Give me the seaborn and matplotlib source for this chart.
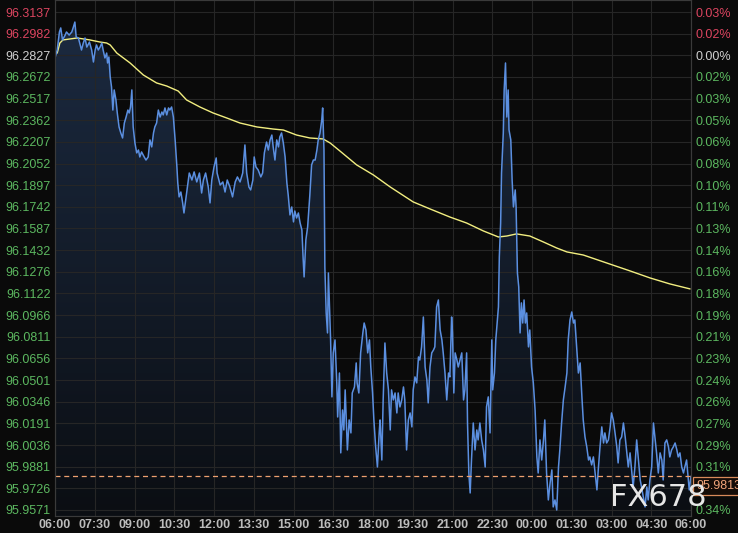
import numpy as np
import pandas as pd
import matplotlib
matplotlib.use("Agg")
import matplotlib.pyplot as plt
import seaborn as sns
from matplotlib.colors import LinearSegmentedColormap

# ---------------- data ----------------
T_MIN = [0,5,10,13,17,23,26,32,38,41,
 45,48,53,60,64,68,72,78,83,87,
 91,94,98,102,106,109,113,117,119,122,
 125,128,131,134,138,141,145,149,153,157,
 161,165,168,171,174,177,181,185,189,192,
 196,202,206,211,215,219,223,226,230,234,
 238,242,245,249,253,257,260,264,268,272,
 276,278,281,285,289,292,298,304,310,315,
 321,327,332,336,341,347,351,355,360,365,
 367,374,380,385,390,396,402,408,413,419,
 425,430,434,439,443,448,451,455,460,466,
 470,474,479,483,487,491,494,498,502,506,
 509,513,517,521,525,528,532,536,540,543,
 547,551,555,559,562,564,568,572,577,581,
 585,589,593,596,600,604,606,609,611,614,
 617,619,621,624,627,630,634,638,640,644,
 647,651,654,657,662,666,670,673,678,682,
 684,688,692,697,700,704,708,712,715,719,
 722,726,730,734,736,740,743,747,751,755,
 759,762,766,770,774,777,781,785,789,792,
 796,800,804,808,811,815,819,823,826,830,
 834,838,842,845,849,853,857,860,864,868,
 872,876,879,883,887,891,894,898,900,903,
 906,910,913,917,921,925,928,932,934,937,
 940,943,947,951,955,958,962,966,970,974,
 977,981,985,989,991,995,998,1004,1006,1009,
 1011,1015,1017,1020,1023,1026,1028,1032,1035,1038,
 1042,1044,1047,1050,1053,1056,1059,1062,1065,1068,
 1072,1075,1079,1083,1087,1091,1094,1098,1102,1106,
 1109,1113,1117,1121,1125,1128,1132,1136,1140,1143,
 1147,1151,1155,1159,1162,1166,1170,1174,1177,1181,
 1185,1189,1193,1196,1200,1204,1208,1211,1215,1219,
 1223,1227,1230,1234,1238,1242,1245,1249,1253,1257,
 1260,1264,1268,1272,1275,1279,1283,1287,1291,1294,
 1298,1302,1306,1309,1313,1317,1321,1325,1328,1332,
 1336,1340,1343,1347,1351,1355,1359,1362,1366,1370,
 1374,1377,1381,1385,1389,1392,1396,1400,1404,1408,
 1411,1415,1419,1423,1426,1430,1434,1436,1440]

PRICE = [96.2808,96.2865,96.2994,96.3023,96.2937,96.2972,96.2994,96.2972,96.2994,96.3023,
 96.3065,96.2958,96.2951,96.2865,96.2915,96.2951,96.2886,96.2922,96.2865,96.2779,
 96.2865,96.2901,96.2865,96.2886,96.2915,96.2865,96.2808,96.2843,96.2772,96.2815,
 96.2672,96.2600,96.2435,96.2579,96.2507,96.2414,96.2314,96.2271,96.2235,96.2342,
 96.2385,96.2435,96.2414,96.2457,96.2579,96.2314,96.2199,96.2128,96.2149,96.2099,
 96.2135,96.2099,96.2077,96.2099,96.2221,96.2171,96.2271,96.2314,96.2342,96.2435,
 96.2385,96.2421,96.2400,96.2450,96.2400,96.2450,96.2435,96.2457,96.2385,96.2221,
 96.2027,96.1913,96.1813,96.1848,96.1770,96.1698,96.1841,96.1984,96.1934,96.1992,
 96.1920,96.1984,96.1841,96.1934,96.1984,96.1884,96.1770,96.1934,96.2027,96.2092,
 96.1984,96.1898,96.1920,96.1848,96.1934,96.1884,96.1813,96.1920,96.1956,96.1920,
 96.1984,96.2185,96.1984,96.1884,96.1863,96.1934,96.2099,96.2027,96.2006,96.1956,
 96.1984,96.2128,96.2206,96.2149,96.2221,96.2256,96.2171,96.2077,96.2221,96.2171,
 96.2242,96.2271,96.2199,96.2099,96.1913,96.1827,96.1684,96.1741,96.1634,96.1712,
 96.1662,96.1698,96.1626,96.1576,96.1361,96.1240,96.1505,96.1598,96.1827,96.2042,
 96.2077,96.2077,96.2149,96.2221,96.2271,96.2364,96.2450,96.2149,96.1311,96.0982,
 96.0839,96.1268,96.1075,96.0789,96.0381,96.0696,96.0789,96.0481,96.0237,96.0552,
 95.9980,96.0287,96.0144,96.0431,96.0001,96.0216,96.0123,96.0409,96.0452,96.0624,
 96.0481,96.0409,96.0696,96.0839,96.0910,96.0860,96.0696,96.0789,96.0595,96.0409,
 96.0216,96.0023,95.9879,96.0123,96.0216,95.9929,96.0359,96.0767,96.0552,96.0431,
 96.0144,96.0431,96.0359,96.0409,96.0266,96.0409,96.0309,96.0359,96.0452,96.0359,
 96.0001,96.0216,96.0266,96.0166,96.0431,96.0524,96.0481,96.0667,96.0645,96.0739,
 96.0953,96.0595,96.0502,96.0338,96.0595,96.0696,96.0717,96.0739,96.1025,96.1075,
 96.0860,96.0789,96.0696,96.0552,96.0359,96.0552,96.0524,96.0953,96.0839,96.0409,
 96.0696,96.0645,96.0595,96.0645,96.0696,96.0359,96.0431,96.0696,96.0194,95.9836,
 95.9693,95.9929,96.0194,96.0001,96.0144,96.0073,96.0194,96.0073,96.0001,95.9879,
 96.0309,96.0381,96.0123,96.0789,96.0431,96.0552,96.0789,96.1025,96.1383,96.1626,
 96.1984,96.2271,96.2579,96.2772,96.2385,96.2579,96.2292,96.2221,96.1934,96.1741,
 96.1863,96.1741,96.1268,96.1168,96.0839,96.1054,96.0910,96.1075,96.0910,96.0982,
 96.0739,96.0860,96.0595,96.0481,96.0287,95.9951,95.9836,96.0073,95.9929,96.0073,
 96.0216,95.9836,95.9643,95.9765,95.9858,95.9593,95.9643,95.9571,95.9879,96.0001,
 96.0194,96.0359,96.0452,96.0552,96.0789,96.0932,96.0989,96.0910,96.0932,96.0739,
 96.0552,96.0624,96.0381,96.0216,96.0094,96.0023,95.9929,95.9951,95.9894,95.9951,
 95.9836,95.9715,95.9858,96.0023,96.0166,96.0051,96.0123,96.0051,96.0073,96.0166,
 96.0266,96.0216,96.0123,96.0023,95.9908,96.0073,96.0094,96.0194,96.0094,96.0001,
 95.9879,95.9980,95.9836,95.9736,95.9879,96.0073,95.9929,95.9786,95.9736,95.9665,
 95.9593,95.9736,95.9643,95.9786,95.9879,96.0194,96.0073,95.9980,95.9836,95.9980,
 95.9929,95.9786,96.0051,96.0073,96.0023,95.9951,96.0001,96.0023,96.0051,96.0001,
 95.9951,95.9980,95.9879,95.9836,95.9879,95.9929,95.9786,95.9715,95.9813]

MA_T = [5,11,18,34,50,79,102,117,125,140,170,200,230,253,279,298,328,358,389,419,
        457,494,517,547,577,607,623,645,683,721,759,811,849,894,932,970,1004,1023,
        1045,1075,1106,1136,1159,1196,1249,1302,1347,1392,1438]
MA_V = [96.2843,96.2915,96.2937,96.2944,96.2951,96.2937,96.2922,96.2915,96.2901,96.2843,
        96.2772,96.2686,96.2629,96.2607,96.2571,96.2507,96.2457,96.2414,96.2378,96.2342,
        96.2314,96.2299,96.2292,96.2256,96.2235,96.2228,96.2199,96.2142,96.2042,96.1970,
        96.1884,96.1777,96.1727,96.1669,96.1626,96.1569,96.1526,96.1533,96.1548,96.1533,
        96.1490,96.1447,96.1419,96.1397,96.1340,96.1283,96.1233,96.1190,96.1154]

X_LABELS = ["06:00","07:30","09:00","10:30","12:00","13:30","15:00","16:30","18:00",
            "19:30","21:00","22:30","00:00","01:30","03:00","04:30","06:00"]
Y_LABELS = ["96.3137","96.2982","96.2827","96.2672","96.2517","96.2362","96.2207","96.2052",
            "96.1897","96.1742","96.1587","96.1432","96.1276","96.1122","96.0966","96.0811",
            "96.0656","96.0501","96.0346","96.0191","96.0036","95.9881","95.9726","95.9571"]
PCT_LABELS = ["0.03%","0.02%","0.00%","0.02%","0.03%","0.05%","0.06%","0.08%","0.10%","0.11%",
              "0.13%","0.14%","0.16%","0.18%","0.19%","0.21%","0.23%","0.24%","0.26%","0.27%",
              "0.29%","0.31%","0.32%","0.34%"]
BASE = 96.2827
LAST = 95.9813
LAST_LABEL = "95.9813"
WATERMARK = "FX678"

# ---------------- style ----------------
BG = "#0a0a0a"
GRID = "#262626"
RED = "#dc4560"
GREEN = "#5cb860"
NEUTRAL = "#d0d0d0"

sns.set_theme(style="dark")
plt.rcParams['font.family'] = ['Liberation Sans', 'DejaVu Sans']

W, H = 738, 533
fig = plt.figure(figsize=(W / 100, H / 100), dpi=100, facecolor=BG)
ax = fig.add_axes([55 / W, 17 / H, 636 / W, 516 / H])
ax.set_facecolor(BG)

YMIN, YMAX = 95.9528, 96.3223
XMIN, XMAX = 0, 1440

price_df = pd.DataFrame({"t": T_MIN, "price": PRICE})
ma_df = pd.DataFrame({"t": MA_T, "ma": MA_V})

# gradient area under the price line
poly = ax.fill_between(price_df["t"], price_df["price"], YMIN, color="none", lw=0)
grad = np.linspace(0, 1, 256).reshape(-1, 1)
cmap = LinearSegmentedColormap.from_list("g", ["#0b0e13", "#1c2b42"])
im = ax.imshow(grad, extent=[XMIN, XMAX, YMIN, YMAX], origin="lower",
               aspect="auto", cmap=cmap, zorder=0.3)
im.set_clip_path(poly.get_paths()[0], transform=ax.transData)

sns.lineplot(data=price_df, x="t", y="price", ax=ax, color="#5b8fe0",
             lw=1.1, estimator=None, sort=False, zorder=2.2)
sns.lineplot(data=ma_df, x="t", y="ma", ax=ax, color="#f2ee80",
             lw=1.0, estimator=None, sort=False, zorder=2.1)

ax.axhline(LAST, color="#eda070", lw=0.9, ls=(0, (4, 3)), zorder=2.5)

ax.set_xlim(XMIN, XMAX)
ax.set_ylim(YMIN, YMAX)

y_vals = [float(s) for s in Y_LABELS]
ax.set_xticks(np.arange(0, 1441, 90))
ax.set_xticklabels(X_LABELS)
ax.set_yticks(y_vals)
ax.set_yticklabels(Y_LABELS)
ax.set_xlabel("")
ax.set_ylabel("")
ax.grid(True, color=GRID, lw=0.8)
ax.set_axisbelow("line")
ax.tick_params(axis="both", length=0, labelsize=9)
ax.tick_params(axis="y", pad=3)
ax.tick_params(axis="x", pad=2, colors="#bcbcbc")

def col(v):
    if abs(v - BASE) < 1e-6:
        return NEUTRAL
    return RED if v > BASE else GREEN

for lab, v in zip(ax.get_yticklabels(), y_vals):
    lab.set_color(col(v))
for lab in ax.get_xticklabels():
    lab.set_fontweight("bold")

for s in ax.spines.values():
    s.set_color("#3a3a3a")
    s.set_linewidth(0.8)

ax2 = ax.twinx()
ax2.set_ylim(YMIN, YMAX)
ax2.set_yticks(y_vals)
ax2.set_yticklabels(PCT_LABELS)
ax2.grid(False)
ax2.tick_params(axis="y", length=0, labelsize=9, pad=3)
for lab, v in zip(ax2.get_yticklabels(), y_vals):
    lab.set_color(col(v))
for s in ax2.spines.values():
    s.set_color("#3a3a3a")
    s.set_linewidth(0.8)

# last price box at right edge (covers the hidden 0.32% label, as in the reference)
fig.text(696 / W, 1 - 486 / H, LAST_LABEL, ha="left", va="center", fontsize=9,
         color="#f0a47a", zorder=10,
         bbox=dict(boxstyle="square,pad=0.25", facecolor="#140c08",
                   edgecolor="#d88a5a", lw=0.9))

# watermark
fig.text(658 / W, 1 - 497 / H, WATERMARK, ha="center", va="center",
         fontsize=22, color="#e6e6e6", family="DejaVu Sans", zorder=11)

fig.savefig("out.png", dpi=100, facecolor=BG)
